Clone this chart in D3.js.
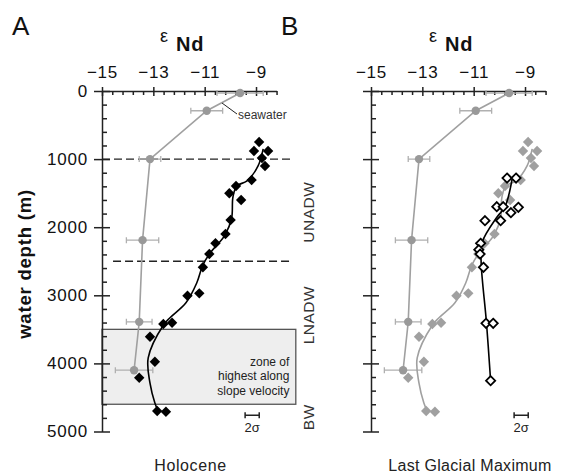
<!DOCTYPE html>
<html>
<head>
<meta charset="utf-8">
<script src="https://cdn.jsdelivr.net/npm/d3@7"></script>
<style>
  body { margin: 0; background: #fff; }
  svg { font-family: "Liberation Sans", Arial, sans-serif; }
</style>
</head>
<body>
<script>
// --- data ---
const epsTicks = [-15, -13, -11, -9];
const depthTicks = [0, 1000, 2000, 3000, 4000, 5000];

// seawater profile (grey circles with error bars)
const swDepth = [30, 290, 1000, 2190, 3390, 4100];
const swEps = [-9.62, -10.92, -13.13, -13.42, -13.55, -13.75];
const swErr = [0.9, 0.62, 0.42, 0.63, 0.5, 0.73];

// Holocene core-top values (diamonds)
const holoDepth = [749, 881, 881, 984, 1101, 1307, 1395, 1502, 1601, 1894, 2100, 2236, 2394, 2589, 2971, 3006, 3402, 3421, 3608, 3975, 4210, 4699, 4709];
const holoEps = [-8.88, -9.08, -8.53, -8.77, -8.65, -9.17, -9.78, -10.04, -9.58, -9.99, -10.19, -10.58, -10.82, -11.07, -11.21, -11.67, -12.27, -12.61, -13.13, -12.94, -13.55, -12.85, -12.51];

// Holocene smoothed profile
const holoFitDepth = [850, 1100, 1320, 1395, 1560, 1865, 2115, 2380, 2555, 2820, 3110, 3330, 3440, 3920, 4290, 4580, 4700];
const holoFitEps = [-8.72, -8.92, -9.35, -9.75, -9.9, -9.95, -10.21, -10.79, -11.07, -11.31, -11.73, -12.35, -12.61, -13.2, -13.13, -12.94, -12.81];

// Last Glacial Maximum (open diamonds)
const lgmDepth = [1278, 1278, 1699, 1699, 1708, 1787, 1905, 1905, 2236, 2330, 2394, 2589, 3411, 3411, 4254];
const lgmEps = [-9.70, -9.35, -10.10, -9.85, -9.26, -9.55, -10.56, -9.95, -10.73, -10.80, -10.75, -10.62, -10.52, -10.24, -10.34];
const lgmFitDepth = [1290, 1700, 1850, 2230, 2510, 3410, 4254];
const lgmFitEps = [-9.5, -9.78, -10.09, -10.68, -10.71, -10.5, -10.34];

// water masses, zone and 2 sigma
const massNames = ['UNADW', 'LNADW', 'BW'];
const massDepth = [1780, 3290, 4790];
const boundaryDepth = [1000, 2500];
const zoneDepth = [3500, 4600];
const sigmaEps = -9.15, sigmaWidth = 0.55, sigmaDepth = 4760;

const W = 561, H = 475;
const svg = d3.select('body').append('svg').attr('width', W).attr('height', H);
svg.append('rect').attr('width', W).attr('height', H).attr('fill', 'white');

const y = d3.scaleLinear().domain([0, 5000]).range([91, 431.5]);
const pxPerUnit = 25.67;

function diamond(r) {
    return `M0,${-r}L${r},0L0,${r}L${-r},0Z`;
}

function panel(x0, letter, title, showYLabels, showBox) {
    const x = d3.scaleLinear().domain([-15, -8.2]).range([x0, x0 + 6.8 * pxPerUnit]);
    const g = svg.append('g');

    // zone of highest along-slope velocity
    if (showBox) {
        g.append('rect')
            .attr('x', x(-15)).attr('y', y(zoneDepth[0]))
            .attr('width', x(-7.45) - x(-15))
            .attr('height', y(zoneDepth[1]) - y(zoneDepth[0]))
            .attr('fill', '#eeeeee').attr('stroke', '#555').attr('stroke-width', 1.3);
        const lines = ['zone of', 'highest along', 'slope velocity'];
        lines.forEach((t, i) => {
            g.append('text').attr('x', x(-7.7)).attr('y', 366 + i * 14.3)
                .attr('text-anchor', 'end').style('font-size', '12px').attr('fill', '#222').text(t);
        });
        boundaryDepth.forEach((d, i) => {
            g.append('line')
                .attr('x1', i === 0 ? x(-15) : x(-14.57)).attr('x2', x(-7.56))
                .attr('y1', y(d)).attr('y2', y(d))
                .attr('stroke', '#222').attr('stroke-width', 1.4)
                .attr('stroke-dasharray', '8,4');
        });
        massNames.forEach((m, i) => {
            g.append('text')
                .attr('transform', `translate(${x(-6.95)},${y(massDepth[i])}) rotate(-90)`)
                .attr('text-anchor', 'middle').attr('dy', '0.35em')
                .style('font-size', '15.5px').style('letter-spacing', '0.5px')
                .attr('fill', '#333').text(m);
        });
    }

    // axes
    const majorX = d3.axisTop(x).tickValues(epsTicks).tickSize(4).tickSizeOuter(0).tickPadding(9)
        .tickFormat(d => d3.format('d')(d));
    const minorXVals = d3.range(-14.6, -8.1, 0.4).filter(v => !epsTicks.some(t => Math.abs(t - v) < 0.01));
    const minorX = d3.axisBottom(x).tickValues(minorXVals).tickSize(4).tickSizeOuter(0).tickFormat('');
    const ax = g.append('g').attr('transform', `translate(0,${y(0)})`).call(majorX);
    ax.selectAll('.tick line').attr('y1', 5);
    ax.selectAll('text').style('font-size', '17px').style('letter-spacing', '0.8px').attr('fill', '#111');
    g.append('g').attr('transform', `translate(0,${y(0)})`).call(minorX).select('.domain').remove();

    const majorY = d3.axisLeft(y).tickValues(depthTicks).tickSize(8).tickSizeOuter(0).tickPadding(6)
        .tickFormat(showYLabels ? d3.format('d') : '');
    const minorY = d3.axisRight(y).tickValues(d3.range(200, 5000, 200).filter(v => v % 1000)).tickSize(5).tickSizeOuter(0).tickFormat('');
    const ay = g.append('g').attr('transform', `translate(${x(-15)},0)`).call(majorY);
    ay.selectAll('.tick line').attr('x1', 8);
    ay.selectAll('text').style('font-size', '17px').style('letter-spacing', '0.8px').attr('fill', '#111');
    g.append('g').attr('transform', `translate(${x(-15)},0)`).call(minorY).select('.domain').remove();
    g.selectAll('.domain, .tick line').attr('stroke', '#222').attr('stroke-width', 1.5);

    // letter and epsilon title
    g.append('text').attr('x', x0 - 90).attr('y', 35).style('font-size', '26px').attr('fill', '#111').text(letter);
    g.append('text').attr('x', x0 + 58).attr('y', 42).style('font-size', '18px').attr('fill', '#111').text('ε');
    g.append('text').attr('x', x0 + 74).attr('y', 51).style('font-size', '20px').style('font-weight', 'bold')
        .style('letter-spacing', '0.8px').attr('fill', '#111').text('Nd');

    g.append('text').attr('x', showYLabels ? 190.5 : x0 + 99).attr('y', 471)
        .attr('text-anchor', 'middle').style('font-size', '16px').style('letter-spacing', showYLabels ? '0.6px' : '0.3px')
        .attr('fill', '#222').text(title);

    // 2 sigma bar
    const sx1 = x(sigmaEps - sigmaWidth / 2), sx2 = x(sigmaEps + sigmaWidth / 2), sy = y(sigmaDepth);
    g.append('path').attr('d', `M${sx1},${sy}H${sx2}M${sx1},${sy - 3}V${sy + 3}M${sx2},${sy - 3}V${sy + 3}`)
        .attr('stroke', '#222').attr('stroke-width', 1.5).attr('fill', 'none');
    g.append('text').attr('x', x(sigmaEps)).attr('y', 432).attr('text-anchor', 'middle')
        .style('font-size', '13px').attr('fill', '#222').text('2σ');

    return { g, x };
}

function seawater(g, x) {
    const sw = swDepth.map((d, i) => ({ d, e: swEps[i], err: swErr[i] }));
    g.append('path').datum(sw)
        .attr('d', d3.line().x(p => x(p.e)).y(p => y(p.d)))
        .attr('fill', 'none').attr('stroke', '#a0a0a0').attr('stroke-width', 1.6);
    sw.forEach(p => {
        const x1 = x(p.e - p.err), x2 = x(p.e + p.err), yy = y(p.d);
        g.append('path').attr('d', `M${x1},${yy}H${x2}M${x1},${yy - 3}V${yy + 3}M${x2},${yy - 3}V${yy + 3}`)
            .attr('stroke', '#b0b0b0').attr('stroke-width', 1.3).attr('fill', 'none');
    });
    g.selectAll(null).data(sw).join('circle')
        .attr('cx', p => x(p.e)).attr('cy', p => y(p.d)).attr('r', 4.2).attr('fill', '#999');
}

function profile(g, x, depth, eps, fitDepth, fitEps, color, open) {
    const fit = fitDepth.map((d, i) => ({ d, e: fitEps[i] }));
    g.append('path').datum(fit)
        .attr('d', d3.line().x(p => x(p.e)).y(p => y(p.d)).curve(d3.curveCatmullRom))
        .attr('fill', 'none').attr('stroke', color).attr('stroke-width', 1.6);
    const pts = depth.map((d, i) => ({ d, e: eps[i] }));
    g.selectAll(null).data(pts).join('path')
        .attr('transform', p => `translate(${x(p.e)},${y(p.d)})`)
        .attr('d', open ? diamond(4.6) : diamond(5.2))
        .attr('fill', open ? 'white' : color)
        .attr('stroke', open ? color : 'none')
        .attr('stroke-width', 1.8);
}

// panel A: Holocene
const A = panel(102, 'A', 'Holocene', true, true);
seawater(A.g, A.x);
profile(A.g, A.x, holoDepth, holoEps, holoFitDepth, holoFitEps, '#000', false);
A.g.append('line').attr('x1', 222).attr('y1', 103).attr('x2', 237).attr('y2', 114)
    .attr('stroke', '#222').attr('stroke-width', 1);
A.g.append('text').attr('x', 238).attr('y', 119).style('font-size', '12px').attr('fill', '#333').text('seawater');

// panel B: Last Glacial Maximum
const B = panel(371, 'B', 'Last Glacial Maximum', false, false);
seawater(B.g, B.x);
profile(B.g, B.x, holoDepth, holoEps, holoFitDepth, holoFitEps, '#a0a0a0', false);
profile(B.g, B.x, lgmDepth, lgmEps, lgmFitDepth, lgmFitEps, '#000', true);

// y axis title
svg.append('text').attr('transform', 'translate(31,264) rotate(-90)')
    .attr('text-anchor', 'middle').style('font-size', '18.5px').style('font-weight', 'bold')
    .style('letter-spacing', '0.8px').attr('fill', '#111').text('water depth (m)');
</script>
</body>
</html>
